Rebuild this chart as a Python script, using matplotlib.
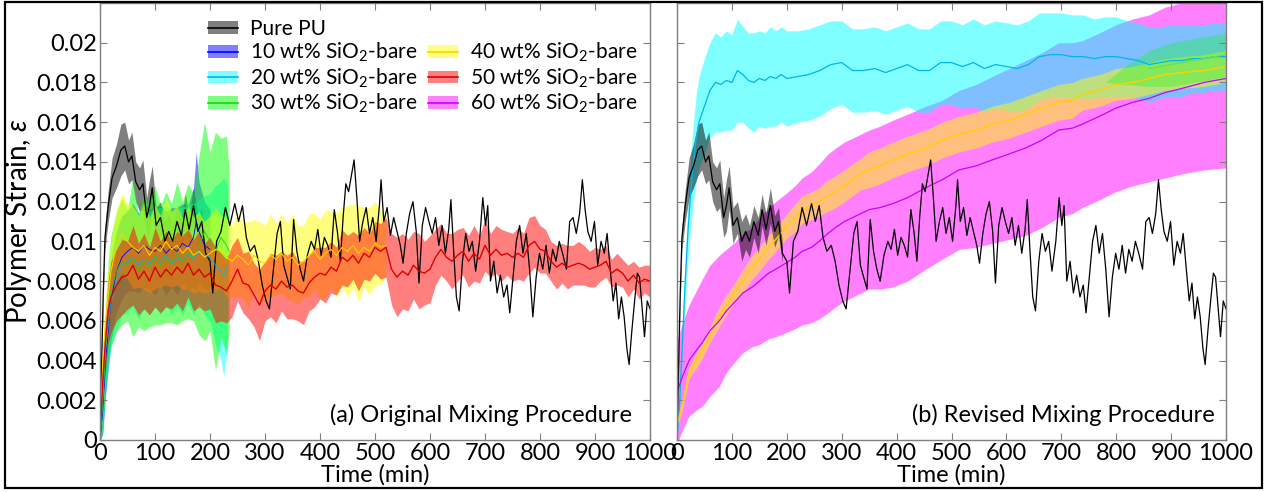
import matplotlib.pyplot as plt
import numpy as np
from matplotlib.patches import Patch, Rectangle
from matplotlib.lines import Line2D

plt.rcParams['font.family'] = ['Lato', 'DejaVu Sans']
plt.rcParams['mathtext.fontset'] = 'custom'
plt.rcParams['mathtext.rm'] = 'Lato'
plt.rcParams['mathtext.it'] = 'Lato:italic'

SPINE = "#7f7f7f"
FS = 17
LEG_FS = 15

# ---------------- data: Pure PU (same run in both panels) ----------------
t_pu = [0, 3, 6, 9, 15, 22, 30, 38, 45, 52, 58, 65, 72, 78, 85, 90, 95, 102, 110, 118,
        125, 132, 140, 148, 155, 162, 170, 178, 185, 192, 200, 205, 212, 220, 228, 236, 245,
        252, 259, 266, 273, 281, 288, 295, 302, 308, 315, 322, 328, 334, 340, 346, 352, 358,
        364, 370, 377, 384, 390, 396, 402, 408, 414, 420, 426, 432, 437, 442, 447, 452, 457,
        462, 467, 472, 478, 484, 490, 496, 502, 508, 511, 516, 522, 528, 534, 540, 546, 551,
        557, 563, 569, 575, 580, 586, 592, 598, 604, 610, 616, 622, 628, 634, 638, 643, 648,
        653, 659, 665, 671, 677, 683, 690, 696, 701, 705, 710, 716, 722, 728, 734, 740, 745,
        751, 757, 763, 769, 775, 781, 787, 793, 799, 805, 811, 817, 823, 829, 835, 841, 848,
        854, 860, 866, 872, 877, 882, 887, 893, 899, 905, 911, 917, 922, 928, 933, 938, 943,
        948, 953, 958, 962, 967, 972, 977, 981, 986, 990, 995, 1000]
eps_pu = [0, 0.004, 0.0075, 0.0102, 0.0118, 0.0132, 0.0138, 0.0146, 0.0148, 0.0140, 0.0143,
          0.0130, 0.0126, 0.0129, 0.0112, 0.0118, 0.0127, 0.0108, 0.0112, 0.0100, 0.0105,
          0.0100, 0.0110, 0.0103, 0.0116, 0.0106, 0.0118, 0.0105, 0.0110, 0.0094, 0.0090,
          0.0074, 0.0100, 0.0105, 0.0117, 0.0108, 0.0119, 0.0110, 0.0118, 0.0102, 0.0095,
          0.0098, 0.0090, 0.0078, 0.0070, 0.0066, 0.0085, 0.0104, 0.0110, 0.0088, 0.0082,
          0.0076, 0.0111, 0.0095, 0.0086, 0.0080, 0.0093, 0.0100, 0.0096, 0.0106, 0.0093,
          0.0102, 0.0098, 0.0092, 0.0116, 0.0104, 0.0090, 0.0112, 0.0129, 0.0125, 0.0133,
          0.0141, 0.0122, 0.0100, 0.0110, 0.0117, 0.0104, 0.0112, 0.0100, 0.0118, 0.0131,
          0.0110, 0.0117, 0.0103, 0.0112, 0.0105, 0.0098, 0.0089, 0.0104, 0.0114, 0.0120,
          0.0105, 0.0079, 0.0108, 0.0117, 0.0110, 0.0104, 0.0112, 0.0098, 0.0108, 0.0094,
          0.0106, 0.0121, 0.0095, 0.0072, 0.0065, 0.0090, 0.0104, 0.0095, 0.0100, 0.0085,
          0.0100, 0.0122, 0.0108, 0.0118, 0.0080, 0.0090, 0.0074, 0.0083, 0.0072, 0.0078,
          0.0064, 0.0082, 0.0100, 0.0108, 0.0094, 0.0104, 0.0086, 0.0062, 0.0082, 0.0094,
          0.0086, 0.0098, 0.0084, 0.0096, 0.0090, 0.0100, 0.0094, 0.0086, 0.0110, 0.0112,
          0.0104, 0.0114, 0.0131, 0.0116, 0.0105, 0.0100, 0.0110, 0.0088, 0.0100, 0.0094,
          0.0104, 0.0085, 0.0070, 0.0079, 0.0061, 0.0072, 0.0062, 0.0046, 0.0038, 0.0055,
          0.0070, 0.0084, 0.0082, 0.0065, 0.0052, 0.0070, 0.0066]
# spread of Pure PU, only recorded for the first 30 samples
sd_pu = [0, 0.0003, 0.0005, 0.0006, 0.0008, 0.0010, 0.0011, 0.0013, 0.0012, 0.0011, 0.0012,
         0.0010, 0.0011, 0.0012, 0.0010, 0.0013, 0.0011, 0.0009, 0.0008, 0.0010, 0.0009,
         0.0008, 0.0008, 0.0009, 0.0008, 0.0008, 0.0009, 0.0008, 0.0007, 0.0005]

# ---------------- data: panel (a) original mixing ----------------
t_10a = [0, 5, 10, 20, 30, 40, 50, 60, 70, 80, 90, 100, 110, 120, 130, 140, 150, 160, 170,
         175, 180, 190, 200]
m_10a = [0, 0.0015, 0.004, 0.007, 0.0085, 0.0092, 0.0095, 0.0097, 0.0094, 0.0098, 0.0096,
         0.0095, 0.0098, 0.0094, 0.0097, 0.0095, 0.0099, 0.0097, 0.0102, 0.0110, 0.0105,
         0.0098, 0.0096]
s_10a = [0, 0.0012, 0.0018, 0.0020, 0.0020, 0.0021, 0.0020, 0.0022, 0.0020, 0.0021, 0.0020,
         0.0022, 0.0020, 0.0021, 0.0020, 0.0022, 0.0020, 0.0021, 0.0025, 0.0035, 0.0025,
         0.0022, 0.0020]

t_20a = [0, 5, 10, 20, 30, 40, 50, 60, 70, 80, 90, 100, 110, 120, 130, 140, 150, 160, 170,
         180, 190, 200, 210, 220, 225, 232]
m_20a = [0, 0.002, 0.0045, 0.007, 0.008, 0.0088, 0.009, 0.0092, 0.0088, 0.0091, 0.0089,
         0.0092, 0.009, 0.0093, 0.0089, 0.0092, 0.009, 0.0094, 0.0091, 0.0095, 0.0093,
         0.0092, 0.0088, 0.0085, 0.0082, 0.0088]
s_20a = [0, 0.0015, 0.0020, 0.0023, 0.0025, 0.0025, 0.0026, 0.0025, 0.0027, 0.0025, 0.0026,
         0.0025, 0.0027, 0.0025, 0.0026, 0.0025, 0.0027, 0.0025, 0.0028, 0.0026, 0.0030,
         0.0032, 0.0040, 0.0045, 0.0050, 0.0040]

t_30a = [0, 5, 10, 15, 20, 30, 40, 50, 60, 70, 80, 90, 100, 110, 120, 130, 140, 150, 160,
         170, 180, 190, 200, 210, 220, 230, 235]
m_30a = [0, 0.002, 0.0045, 0.0065, 0.0075, 0.0085, 0.009, 0.0088, 0.0092, 0.0085, 0.009,
         0.0087, 0.0093, 0.0088, 0.0092, 0.0089, 0.0094, 0.009, 0.0095, 0.0092, 0.0098,
         0.0105, 0.0100, 0.0095, 0.0102, 0.0098, 0.0095]
s_30a = [0.0005, 0.0015, 0.0020, 0.0025, 0.0028, 0.0030, 0.0032, 0.0028, 0.0040, 0.0028,
         0.0035, 0.0030, 0.0035, 0.0030, 0.0033, 0.0030, 0.0036, 0.0030, 0.0034, 0.0032,
         0.0045, 0.0055, 0.0045, 0.0060, 0.0050, 0.0055, 0.0040]

t_40a = [0, 5, 10, 20, 30, 40, 50, 60, 70, 80, 90, 100, 110, 120, 130, 140, 150, 160, 170,
         180, 190, 200, 210, 220, 230, 240, 250, 260, 270, 280, 290, 300, 310, 320, 330, 340,
         350, 360, 370, 380, 390, 400, 410, 420, 430, 440, 450, 460, 470, 480, 490, 500, 510,
         520]
m_40a = [0, 0.004, 0.006, 0.0085, 0.0098, 0.0104, 0.0100, 0.0097, 0.0095, 0.0098, 0.0093,
         0.0097, 0.0095, 0.0100, 0.0096, 0.0098, 0.0094, 0.0097, 0.0093, 0.0095, 0.0092,
         0.0094, 0.0096, 0.0095, 0.0092, 0.0090, 0.0093, 0.0091, 0.0088, 0.0093, 0.0090,
         0.0089, 0.0093, 0.0091, 0.0094, 0.0090, 0.0092, 0.0088, 0.0090, 0.0093, 0.0095,
         0.0091, 0.0094, 0.0096, 0.0093, 0.0097, 0.0095, 0.0098, 0.0094, 0.0097, 0.0095,
         0.0099, 0.0097, 0.0098]
s_40a = [0, 0.0008, 0.0012, 0.0016, 0.0018, 0.0020, 0.0019, 0.0021, 0.0018, 0.0022, 0.0019,
         0.0021, 0.0018, 0.0022, 0.0019, 0.0020, 0.0018, 0.0021, 0.0019, 0.0020, 0.0018,
         0.0019, 0.0021, 0.0018, 0.0020, 0.0018, 0.0021, 0.0019, 0.0022, 0.0018, 0.0020,
         0.0019, 0.0021, 0.0018, 0.0020, 0.0019, 0.0022, 0.0020, 0.0018, 0.0021, 0.0019,
         0.0020, 0.0022, 0.0019, 0.0021, 0.0020, 0.0023, 0.0021, 0.0024, 0.0020, 0.0022,
         0.0021, 0.0019, 0.0015]

t_50a = [0, 5, 10, 15, 20, 30, 40, 50, 60, 70, 80, 90, 100, 110, 120, 130, 140, 150, 160,
         170, 180, 190, 200, 210, 220, 230, 240, 250, 260, 270, 280, 290, 300, 310, 320, 330,
         340, 350, 360, 370, 380, 390, 400, 410, 420, 430, 440, 450, 460, 470, 480, 490, 500,
         510, 520, 530, 540, 550, 560, 570, 580, 590, 600, 610, 620, 630, 640, 650, 660, 670,
         680, 690, 700, 710, 720, 730, 740, 750, 760, 770, 780, 790, 800, 810, 820, 830, 840,
         850, 860, 870, 880, 890, 900, 910, 920, 930, 940, 950, 960, 970, 980, 990, 1000]
m_50a = [0, 0.003, 0.005, 0.0065, 0.0072, 0.0078, 0.0082, 0.0083, 0.0088, 0.0081, 0.0085,
         0.0080, 0.0087, 0.0082, 0.0086, 0.0083, 0.0087, 0.0084, 0.0089, 0.0083, 0.0086,
         0.0082, 0.0084, 0.0078, 0.0077, 0.0075, 0.0080, 0.0086, 0.0079, 0.0078, 0.0073,
         0.0068, 0.0075, 0.0078, 0.0076, 0.0080, 0.0077, 0.0078, 0.0075, 0.0074, 0.0079,
         0.0082, 0.0084, 0.0083, 0.0087, 0.0085, 0.0092, 0.0090, 0.0093, 0.0089, 0.0094,
         0.0092, 0.0097, 0.0095, 0.0097, 0.0086, 0.0082, 0.0085, 0.0083, 0.0088, 0.0085,
         0.0084, 0.0086, 0.0092, 0.0096, 0.0092, 0.0090, 0.0093, 0.0095, 0.0090, 0.0094,
         0.0091, 0.0098, 0.0093, 0.0096, 0.0093, 0.0094, 0.0092, 0.0094, 0.0092, 0.0098,
         0.0100, 0.0096, 0.0095, 0.0090, 0.0087, 0.0089, 0.0087, 0.0088, 0.0089, 0.0088,
         0.0086, 0.0087, 0.0088, 0.0090, 0.0084, 0.0086, 0.0084, 0.0080, 0.0083, 0.0079,
         0.0081, 0.0080]
s_50a = [0, 0.0010, 0.0014, 0.0016, 0.0018, 0.0018, 0.0019, 0.0017, 0.0020, 0.0018, 0.0019,
         0.0017, 0.0020, 0.0018, 0.0019, 0.0017, 0.0018, 0.0019, 0.0017, 0.0018, 0.0019,
         0.0017, 0.0018, 0.0019, 0.0017, 0.0016, 0.0018, 0.0016, 0.0015, 0.0017, 0.0016,
         0.0018, 0.0015, 0.0016, 0.0017, 0.0015, 0.0016, 0.0017, 0.0015, 0.0016, 0.0014,
         0.0015, 0.0013, 0.0014, 0.0013, 0.0012, 0.0014, 0.0013, 0.0012, 0.0014, 0.0013,
         0.0012, 0.0013, 0.0014, 0.0015, 0.0018, 0.0020, 0.0019, 0.0018, 0.0017, 0.0019,
         0.0016, 0.0017, 0.0014, 0.0013, 0.0012, 0.0014, 0.0013, 0.0012, 0.0013, 0.0014,
         0.0012, 0.0013, 0.0011, 0.0012, 0.0013, 0.0011, 0.0012, 0.0013, 0.0012, 0.0014,
         0.0013, 0.0012, 0.0011, 0.0010, 0.0011, 0.0010, 0.0011, 0.0010, 0.0011, 0.0010,
         0.0009, 0.0010, 0.0008, 0.0008, 0.0007, 0.0008, 0.0007, 0.0008, 0.0007, 0.0008,
         0.0007, 0.0008]

# ---------------- data: panel (b) revised mixing ----------------
t_20b = [0, 5, 10, 15, 20, 25, 30, 35, 40, 50, 60, 70, 80, 90, 100, 110, 120, 130, 140, 150,
         160, 170, 180, 190, 200, 220, 240, 260, 280, 300, 320, 340, 360, 380, 400, 420, 440,
         460, 480, 500, 520, 540, 560, 580, 600, 620, 640, 660, 680, 700, 720, 740, 760, 780,
         800, 820, 840, 860, 880, 900, 920, 940, 960, 980, 1000]
m_20b = [0, 0.002, 0.005, 0.008, 0.0105, 0.0125, 0.014, 0.0152, 0.016, 0.0168, 0.0176,
         0.0180, 0.0179, 0.0181, 0.0180, 0.0186, 0.0184, 0.0181, 0.0180, 0.0182, 0.0181,
         0.0183, 0.0182, 0.0184, 0.0182, 0.0183, 0.0184, 0.0186, 0.0189, 0.0190, 0.0186,
         0.0186, 0.0187, 0.0185, 0.0187, 0.0189, 0.0186, 0.0186, 0.0190, 0.0190, 0.0188,
         0.0190, 0.0187, 0.0189, 0.0188, 0.0187, 0.0189, 0.0193, 0.0194, 0.0194, 0.0193,
         0.0193, 0.0192, 0.0193, 0.0193, 0.0192, 0.0191, 0.0189, 0.0190, 0.0191, 0.0191,
         0.0192, 0.0192, 0.0193, 0.0193]
s_20b = [0, 0.0005, 0.0009, 0.0012, 0.0015, 0.0018, 0.0020, 0.0022, 0.0023, 0.0024, 0.0024,
         0.0025, 0.0024, 0.0025, 0.0024, 0.0026, 0.0024, 0.0024, 0.0025, 0.0024, 0.0024,
         0.0025, 0.0024, 0.0024, 0.0024, 0.0023, 0.0023, 0.0023, 0.0022, 0.0021, 0.0021,
         0.0021, 0.0021, 0.0021, 0.0021, 0.0021, 0.0021, 0.0021, 0.0021, 0.0021, 0.0021,
         0.0022, 0.0022, 0.0022, 0.0022, 0.0022, 0.0022, 0.0022, 0.0021, 0.0021, 0.0021,
         0.0021, 0.0020, 0.0020, 0.0020, 0.0019, 0.0019, 0.0019, 0.0018, 0.0018, 0.0018,
         0.0017, 0.0017, 0.0017, 0.0017]

t_30b = [780, 820, 860, 900, 940, 980, 1000]
m_30b = [0.0180, 0.0184, 0.0187, 0.0189, 0.0191, 0.0193, 0.0194]
s_30b = [0.0000, 0.0005, 0.0009, 0.0011, 0.0011, 0.0011, 0.0011]

t_b = [0, 10, 22, 35, 46, 60, 77, 90, 107, 120, 137, 150, 167, 180, 198, 215, 228, 245,
       259, 275, 289, 305, 320, 335, 350, 370, 393, 420, 453, 483, 514, 545, 574, 605, 635,
       665, 695, 720, 738, 770, 799, 830, 860, 890, 920, 960, 1000]
m_40b = [0.0008, 0.0018, 0.0034, 0.0040, 0.0045, 0.0053, 0.0062, 0.0068, 0.0075, 0.0080,
         0.0087, 0.0091, 0.0097, 0.0101, 0.0107, 0.0112, 0.0116, 0.0118, 0.0120, 0.0123,
         0.0125, 0.0128, 0.0131, 0.0134, 0.0136, 0.0138, 0.0141, 0.0144, 0.0147, 0.0151,
         0.0154, 0.0156, 0.0159, 0.0161, 0.0164, 0.0167, 0.0170, 0.0171, 0.0174, 0.0176,
         0.0179, 0.0180, 0.0182, 0.0184, 0.0185, 0.0186, 0.0188]
s_40b = [0.0002, 0.0003, 0.0003, 0.0004, 0.0004, 0.0004, 0.0005, 0.0005, 0.0005, 0.0006,
         0.0006, 0.0006, 0.0006, 0.0006, 0.0006, 0.0007, 0.0007, 0.0007, 0.0007, 0.0008,
         0.0008, 0.0008, 0.0008, 0.0008, 0.0009, 0.0009, 0.0009, 0.0009, 0.0009, 0.0009,
         0.0009, 0.0009, 0.0009, 0.0009, 0.0009, 0.0009, 0.0009, 0.0009, 0.0008, 0.0008,
         0.0008, 0.0008, 0.0008, 0.0008, 0.0008, 0.0008, 0.0008]
m_60b = [0.0024, 0.0032, 0.0040, 0.0045, 0.0049, 0.0055, 0.0060, 0.0065, 0.0070, 0.0074,
         0.0077, 0.0080, 0.0084, 0.0086, 0.0089, 0.0092, 0.0095, 0.0097, 0.0100, 0.0104,
         0.0107, 0.0110, 0.0112, 0.0114, 0.0116, 0.0117, 0.0119, 0.0122, 0.0127, 0.0131,
         0.0136, 0.0138, 0.0141, 0.0144, 0.0147, 0.0151, 0.0156, 0.0157, 0.0159, 0.0163,
         0.0167, 0.0170, 0.0172, 0.0175, 0.0177, 0.0180, 0.0182]
s_60b = [0.0026, 0.0027, 0.0028, 0.0030, 0.0032, 0.0033, 0.0033, 0.0031, 0.0030, 0.0030,
         0.0030, 0.0032, 0.0033, 0.0034, 0.0035, 0.0036, 0.0037, 0.0038, 0.0039, 0.0040,
         0.0040, 0.0040, 0.0040, 0.0040, 0.0040, 0.0041, 0.0042, 0.0042, 0.0041, 0.0040,
         0.0040, 0.0041, 0.0042, 0.0043, 0.0044, 0.0044, 0.0044, 0.0043, 0.0042, 0.0042,
         0.0042, 0.0042, 0.0042, 0.0043, 0.0043, 0.0044, 0.0045]

labels = ["Pure PU", "10 wt% SiO$_2$-bare", "20 wt% SiO$_2$-bare", "30 wt% SiO$_2$-bare",
          "40 wt% SiO$_2$-bare", "50 wt% SiO$_2$-bare", "60 wt% SiO$_2$-bare"]
band_c = ["#000000", "#0000ff", "#00ffff", "#00ff00", "#ffff00", "#ff0000", "#ff00ff"]
line_c = ["#000000", "#0000ff", "#00b4f0", "#22cc22", "#ffd000", "#dd0000", "#cc00ff"]

yticks = [0, 0.002, 0.004, 0.006, 0.008, 0.01, 0.012, 0.014, 0.016, 0.018, 0.02]
ytick_labels = ["0", "0.002", "0.004", "0.006", "0.008", "0.01", "0.012", "0.014", "0.016",
                "0.018", "0.02"]
xticks = list(range(0, 1001, 100))


def series(ax, t, m, s, i, lw=0.8, line=True, alpha=0.5):
    t, m, s = np.asarray(t), np.asarray(m), np.asarray(s)
    ax.fill_between(t, m - s, m + s, color=band_c[i], alpha=alpha, lw=0)
    if line:
        ax.plot(t, m, color=line_c[i], lw=lw)


def pure_pu(ax):
    n = len(sd_pu)
    tt = np.asarray(t_pu[:n])
    mm = np.asarray(eps_pu[:n])
    ax.fill_between(tt, mm - np.asarray(sd_pu), mm + np.asarray(sd_pu), color="black",
                    alpha=0.5, lw=0)
    ax.plot(t_pu, eps_pu, color="black", lw=0.9)


fig = plt.figure(figsize=(12.68, 4.92), dpi=100)
ax_a = fig.add_axes([100 / 1268, 52 / 492, 550 / 1268, 437 / 492])
ax_b = fig.add_axes([677 / 1268, 52 / 492, 549 / 1268, 437 / 492])

# panel (a)
pure_pu(ax_a)
series(ax_a, t_10a, m_10a, s_10a, 1, lw=0.6)
series(ax_a, t_20a, m_20a, s_20a, 2, lw=0.6)
series(ax_a, t_30a, m_30a, s_30a, 3, lw=0.6)
series(ax_a, t_40a, m_40a, s_40a, 4)
series(ax_a, t_50a, m_50a, s_50a, 5, lw=1.0)

# panel (b)
series(ax_b, t_b, m_60b, s_60b, 6, line=False)
series(ax_b, t_20b, m_20b, s_20b, 2, line=False)
series(ax_b, t_b, m_40b, s_40b, 4, line=False)
series(ax_b, t_30b, m_30b, s_30b, 3, line=False, alpha=0.3)
ax_b.plot(t_20b, m_20b, color=line_c[2], lw=0.9)
ax_b.plot(t_30b[2:], m_30b[2:], color="#66dd66", lw=0.9)
ax_b.plot(t_b, m_40b, color=line_c[4], lw=1.0)
ax_b.plot(t_b, m_60b, color=line_c[6], lw=0.9)
pure_pu(ax_b)

for ax in (ax_a, ax_b):
    ax.set_xlim(0, 1000)
    ax.set_ylim(0, 0.022)
    ax.set_xticks(xticks)
    ax.set_xticklabels([str(x) for x in xticks], fontsize=FS)
    ax.set_yticks(yticks)
    ax.tick_params(direction="in", top=True, right=True, length=5, color=SPINE, pad=2)
    for sp in ax.spines.values():
        sp.set_color(SPINE)
        sp.set_linewidth(1.0)
    ax.set_xlabel("Time (min)", fontsize=FS, labelpad=0)

ax_a.set_yticklabels(ytick_labels, fontsize=FS)
ax_b.set_yticklabels([])
ax_a.set_ylabel("Polymer Strain, $\\it{\\varepsilon}$", fontsize=20, labelpad=2)

ax_a.text(0.967, 0.057, "(a) Original Mixing Procedure", transform=ax_a.transAxes,
          ha="right", va="center", fontsize=FS)
ax_b.text(0.98, 0.057, "(b) Revised Mixing Procedure", transform=ax_b.transAxes,
          ha="right", va="center", fontsize=FS)

handles = []
for i in range(7):
    handles.append((Patch(facecolor=band_c[i], alpha=0.5, lw=0),
                    Line2D([], [], color=line_c[i], lw=1.2)))
blank = Line2D([], [], alpha=0)
order = [0, 1, 2, 3]
leg_h = [handles[i] for i in order] + [blank] + [handles[i] for i in (4, 5, 6)]
leg_l = [labels[i] for i in order] + [""] + [labels[i] for i in (4, 5, 6)]
ax_a.legend(leg_h, leg_l, ncol=2, loc="upper left", bbox_to_anchor=(0.17, 0.997),
            frameon=False, fontsize=LEG_FS, handlelength=1.44, handleheight=0.58,
            handletextpad=0.58, columnspacing=0.48, labelspacing=0.1, borderpad=0.2)

fig.add_artist(Rectangle((5 / 1268, 4 / 492), 1257 / 1268, 486 / 492,
                         transform=fig.transFigure, fill=False, edgecolor="black", lw=1.6))

fig.savefig("out.png", dpi=100, facecolor="white")
